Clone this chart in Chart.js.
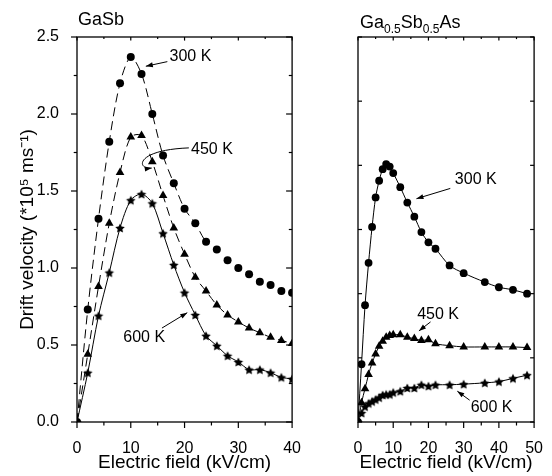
<!DOCTYPE html>
<html>
<head>
<meta charset="utf-8">
<script src="https://cdn.jsdelivr.net/npm/chart.js@4.4.0/dist/chart.umd.min.js"></script>
<style>
  html, body { margin: 0; padding: 0; background: #fff; }
  #wrap { position: relative; width: 552px; height: 476px; }
  #c1 { position: absolute; left: 0; top: 0; }
  #c2 { position: absolute; left: 330px; top: 0; }
</style>
</head>
<body>
<div id="wrap">
  <canvas id="c1" width="310" height="476"></canvas>
  <canvas id="c2" width="222" height="476"></canvas>
</div>
<script>
// GaSb panel (field in kV/cm, velocity in 1e5 m/s)
const gasbField = [0, 2, 4, 6, 8, 10, 12, 14, 16, 18, 20, 22, 24, 26, 28, 30, 32, 34, 36, 38, 40];
const gasbV300 = [0, 0.73, 1.32, 1.82, 2.20, 2.37, 2.26, 2.00, 1.73, 1.55, 1.385, 1.29, 1.17, 1.12, 1.05, 1.00, 0.96, 0.91, 0.89, 0.85, 0.84];
const gasbV450 = [0, 0.44, 0.88, 1.29, 1.62, 1.85, 1.86, 1.69, 1.47, 1.26, 1.09, 0.94, 0.85, 0.76, 0.695, 0.65, 0.61, 0.58, 0.55, 0.53, 0.51];
const gasbV600 = [0, 0.32, 0.69, 0.97, 1.26, 1.44, 1.48, 1.42, 1.225, 1.02, 0.84, 0.695, 0.56, 0.495, 0.43, 0.39, 0.34, 0.34, 0.32, 0.29, 0.28];

// Ga0.5Sb0.5As panel
const alloyField = [0, 1, 2, 3, 4, 5, 6, 7, 8, 9, 10, 12, 14, 16, 18, 20, 22, 26, 30, 36, 40, 44, 48];
const alloyV300 = [0, 0.45, 0.91, 1.24, 1.52, 1.75, 1.88, 1.97, 2.01, 1.99, 1.94, 1.83, 1.71, 1.60, 1.48, 1.40, 1.35, 1.22, 1.16, 1.09, 1.05, 1.03, 1.00];
const alloyV450 = [0, 0.15, 0.26, 0.37, 0.46, 0.53, 0.59, 0.63, 0.66, 0.675, 0.68, 0.68, 0.66, 0.65, 0.635, 0.64, 0.61, 0.595, 0.585, 0.585, 0.585, 0.585, 0.58];
const alloyV600 = [0, 0.07, 0.12, 0.145, 0.16, 0.175, 0.19, 0.21, 0.215, 0.215, 0.23, 0.24, 0.265, 0.265, 0.29, 0.28, 0.29, 0.29, 0.295, 0.305, 0.315, 0.34, 0.365];

const FONT = '"Liberation Sans", Arial, sans-serif';

function pts(xs, ys) {
  return xs.map((x, i) => ({ x: x, y: ys[i] }));
}

// filled five point star used as marker
function starImage(r) {
  const c = document.createElement('canvas');
  const s = Math.ceil(r * 2 + 2);
  c.width = c.height = s;
  const g = c.getContext('2d');
  g.fillStyle = '#000';
  g.beginPath();
  for (let i = 0; i < 10; i++) {
    const rad = i % 2 === 0 ? r : r * 0.5;
    const a = -Math.PI / 2 + i * Math.PI / 5;
    const px = s / 2 + rad * Math.cos(a), py = s / 2 + rad * Math.sin(a) + 0.5;
    if (i === 0) g.moveTo(px, py); else g.lineTo(px, py);
  }
  g.closePath();
  g.fill();
  return c;
}
const star = starImage(5);

function line(ctx, x1, y1, x2, y2) {
  ctx.beginPath();
  ctx.moveTo(x1, y1);
  ctx.lineTo(x2, y2);
  ctx.stroke();
}

// box around plot + tick marks on all four sides
const frameTicks = {
  id: 'frameTicks',
  afterDraw(chart, args, opts) {
    const { ctx, chartArea: a, scales: { x, y } } = chart;
    ctx.save();
    ctx.strokeStyle = '#000';
    ctx.lineWidth = 1.3;
    ctx.strokeRect(a.left, a.top, a.right - a.left, a.bottom - a.top);
    ctx.lineWidth = 1.2;
    x.ticks.forEach(t => {
      const px = x.getPixelForValue(t.value);
      const len = t.value % opts.xMajor === 0 ? 6 : 3.5;
      line(ctx, px, a.bottom, px, a.bottom + len);
      line(ctx, px, a.top, px, a.top + len * 0.6);
    });
    y.ticks.forEach(t => {
      const py = y.getPixelForValue(t.value);
      const r = t.value / opts.yMajor;
      const major = Math.abs(r - Math.round(r)) < 1e-6;
      const len = major ? opts.yLen : opts.yLen * 0.55;
      if (opts.leftOut) line(ctx, a.left, py, a.left - len, py);
      else line(ctx, a.left, py, a.left + len, py);
      line(ctx, a.right, py, a.right - len, py);
    });
    ctx.restore();
  }
};

// panel title with optional subscripts
const panelTitle = {
  id: 'panelTitle',
  afterDraw(chart, args, opts) {
    const { ctx, chartArea: a } = chart;
    ctx.save();
    ctx.fillStyle = '#000';
    ctx.textBaseline = 'alphabetic';
    let xx = a.left + opts.dx;
    opts.parts.forEach(p => {
      ctx.font = (p.sub ? '12px ' : '18px ') + FONT;
      ctx.fillText(p.t, xx, p.sub ? opts.base + 5 : opts.base);
      xx += ctx.measureText(p.t).width;
    });
    ctx.restore();
  }
};

// temperature labels with arrows
const notes = {
  id: 'notes',
  afterDatasetsDraw(chart, args, opts) {
    const { ctx, scales: { x, y } } = chart;
    const P = p => [x.getPixelForValue(p[0]), y.getPixelForValue(p[1])];
    ctx.save();
    ctx.fillStyle = '#000';
    ctx.strokeStyle = '#000';
    ctx.lineWidth = 1;
    ctx.font = '16px ' + FONT;
    ctx.textBaseline = 'middle';
    opts.items.forEach(n => {
      const [tx, ty] = P(n.at);
      ctx.fillText(n.text, tx, ty);
      const path = n.path.map(P);
      ctx.beginPath();
      ctx.moveTo(path[0][0], path[0][1]);
      if (path.length === 4) {
        ctx.bezierCurveTo(path[1][0], path[1][1], path[2][0], path[2][1], path[3][0], path[3][1]);
      } else {
        ctx.lineTo(path[1][0], path[1][1]);
      }
      ctx.stroke();
      const [ex, ey] = path[path.length - 1];
      const [sx, sy] = path[path.length - 2];
      const ang = Math.atan2(ey - sy, ex - sx);
      ctx.beginPath();
      ctx.moveTo(ex, ey);
      ctx.lineTo(ex - 7 * Math.cos(ang) + 2.5 * Math.sin(ang), ey - 7 * Math.sin(ang) - 2.5 * Math.cos(ang));
      ctx.lineTo(ex - 7 * Math.cos(ang) - 2.5 * Math.sin(ang), ey - 7 * Math.sin(ang) + 2.5 * Math.cos(ang));
      ctx.closePath();
      ctx.fill();
    });
    ctx.restore();
  }
};

function ds(label, data, marker, radius, dash) {
  return {
    label: label,
    data: data,
    borderColor: '#000',
    backgroundColor: '#000',
    borderWidth: 1,
    borderDash: dash,
    tension: 0.3,
    pointStyle: marker,
    pointRadius: radius,
    pointBackgroundColor: '#000',
    pointBorderColor: '#000',
    pointBorderWidth: 0
  };
}

function xAxis(max) {
  return {
    type: 'linear', min: 0, max: max,
    grid: { display: false },
    border: { display: false },
    ticks: {
      stepSize: 5, autoSkip: false, maxRotation: 0, padding: 9, color: '#000',
      font: { size: 16, family: FONT },
      callback: v => (v % 10 === 0 ? String(v) : '')
    },
    title: {
      display: true, text: 'Electric field (kV/cm)', color: '#000',
      font: { size: 19, family: FONT }, padding: { top: 0, bottom: 2 }
    },
    afterFit: s => { s.height = 54; }
  };
}

// left: GaSb
const gasb300 = ds('300 K', pts(gasbField, gasbV300), 'circle', 4, [9, 5]);
// the 300 K guide line stops after ~24 kV/cm in the original
gasb300.segment = { borderColor: c => (c.p0.parsed.x >= 24 ? 'rgba(0,0,0,0)' : '#000') };

new Chart(document.getElementById('c1'), {
  type: 'line',
  data: {
    datasets: [
      gasb300,
      ds('450 K', pts(gasbField, gasbV450), 'triangle', 5, [9, 5]),
      ds('600 K', pts(gasbField, gasbV600), star, 5, [])
    ]
  },
  options: {
    responsive: false,
    animation: false,
    layout: { padding: { top: 37, right: 14, left: 0, bottom: 0 } },
    plugins: {
      legend: { display: false },
      tooltip: { enabled: false },
      frameTicks: { xMajor: 10, yMajor: 0.5, yLen: 6, leftOut: true },
      panelTitle: { base: 25, dx: 1, parts: [{ t: 'GaSb' }] },
      notes: {
        items: [
          { text: '300 K', at: [17.2, 2.37], path: [[16.8, 2.34], [12.8, 2.31]] },
          { text: '450 K', at: [21.2, 1.77], path: [[20.8, 1.78], [10.6, 1.766], [11.1, 1.636], [13.9, 1.649]] },
          { text: '600 K', at: [8.6, 0.545], path: [[15.8, 0.61], [20.5, 0.71]] }
        ]
      }
    },
    scales: {
      x: xAxis(40),
      y: {
        min: 0, max: 2.5,
        grid: { display: false },
        border: { display: false },
        ticks: {
          stepSize: 0.25, autoSkip: false, padding: 10, color: '#000',
          font: { size: 16, family: FONT },
          callback: v => (Math.abs(v * 2 - Math.round(v * 2)) < 1e-6 ? v.toFixed(1) : '')
        },
        title: {
          display: true, text: 'Drift velocity (*10\u2075 ms\u207B\u00B9)', color: '#000',
          font: { size: 19, family: FONT }, padding: { top: 16, bottom: 0 }
        },
        afterFit: s => { s.width = 77; }
      }
    }
  },
  plugins: [frameTicks, panelTitle, notes]
});

// right: Ga0.5Sb0.5As
new Chart(document.getElementById('c2'), {
  type: 'line',
  data: {
    datasets: [
      ds('300 K', pts(alloyField, alloyV300), 'circle', 3.9, []),
      ds('450 K', pts(alloyField, alloyV450), 'triangle', 5, []),
      ds('600 K', pts(alloyField, alloyV600), star, 5, [])
    ]
  },
  options: {
    responsive: false,
    animation: false,
    layout: { padding: { top: 37, right: 7, left: 0, bottom: 0 } },
    plugins: {
      legend: { display: false },
      tooltip: { enabled: false },
      frameTicks: { xMajor: 10, yMajor: 0.5, yLen: 4, leftOut: false },
      panelTitle: {
        base: 28, dx: 2,
        parts: [{ t: 'Ga' }, { t: '0.5', sub: true }, { t: 'Sb' }, { t: '0.5', sub: true }, { t: 'As' }]
      },
      notes: {
        items: [
          { text: '300 K', at: [27.5, 1.89], path: [[26.2, 1.82], [16.6, 1.74]] },
          { text: '450 K', at: [16.8, 0.84], path: [[20.6, 0.78], [17.3, 0.71]] },
          { text: '600 K', at: [32, 0.11], path: [[31.7, 0.17], [28.2, 0.24]] }
        ]
      }
    },
    scales: {
      x: xAxis(50),
      y: {
        min: 0, max: 3,
        grid: { display: false },
        border: { display: false },
        ticks: { stepSize: 0.5, display: false },
        afterFit: s => { s.width = 28; }
      }
    }
  },
  plugins: [frameTicks, panelTitle, notes]
});
</script>
</body>
</html>
